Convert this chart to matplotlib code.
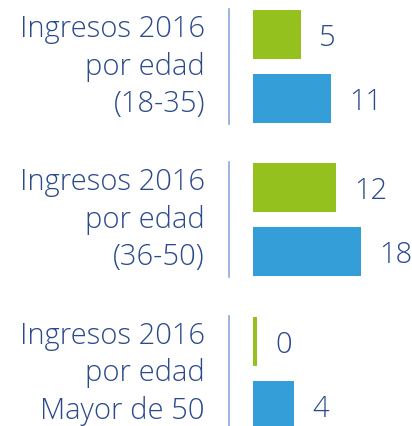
import matplotlib.pyplot as plt
import numpy as np

plt.rcParams['font.family'] = ['Open Sans', 'DejaVu Sans']
plt.rcParams['font.weight'] = 'light'

labels = ['Ingresos 2016\npor edad\n(18-35)',
          'Ingresos 2016\npor edad\n(36-50)',
          'Ingresos 2016\npor edad\nMayor de 50']
green_vals = [5, 12, 0]
blue_vals = [11, 18, 4]

GREEN = '#95c11f'
BLUE = '#349ed8'
TEXT = '#2b4a8b'
LINE = '#8fa8d8'

# infographic bars are not linear, a soft power scale gets close
p = 0.68
def fwd(v):
    return np.sign(v) * np.abs(v) ** p
def inv(t):
    return np.sign(t) * np.abs(t) ** (1 / p)

W, H = 412, 427
fig = plt.figure(figsize=(W / 100, H / 100), dpi=100)

# axes spans bar area: x from 253px to right edge, full height
x0 = 253
ax = fig.add_axes([x0 / W, 0, 1 - x0 / W, 1])
ax.set_xscale('function', functions=(fwd, inv))
stub = 0.15
k = 108 / (fwd(18) - fwd(-stub))          # px per transformed unit
xmax = inv(fwd(-stub) + (W - x0) / k)
ax.set_xlim(-stub, xmax)
ax.set_ylim(H, 0)  # y in pixels from top
ax.axis('off')

centers = [67.5, 220.5, 374.5]
off = 32
bh = 49
for i in range(3):
    yg = centers[i] - off
    yb = centers[i] + off
    ax.barh(yg, green_vals[i] + stub, left=-stub, height=bh, color=GREEN)
    ax.barh(yb, blue_vals[i] + stub, left=-stub, height=bh, color=BLUE)
    for y, v in ((yg, green_vals[i]), (yb, blue_vals[i])):
        ax.annotate(str(v), (v, y), xytext=(18, -3), textcoords='offset pixels',
                    ha='left', va='center', fontsize=21, color=TEXT)
    # separator line
    fig.add_artist(plt.Line2D([229 / W, 229 / W],
                              [1 - (centers[i] - 58) / H, 1 - (centers[i] + 57) / H],
                              color=LINE, lw=1.2))
    fig.text(205 / W, 1 - (centers[i] - 1) / H, labels[i], ha='right', va='center',
             fontsize=21, color=TEXT, linespacing=1.33)

fig.savefig('out.png', dpi=100)
